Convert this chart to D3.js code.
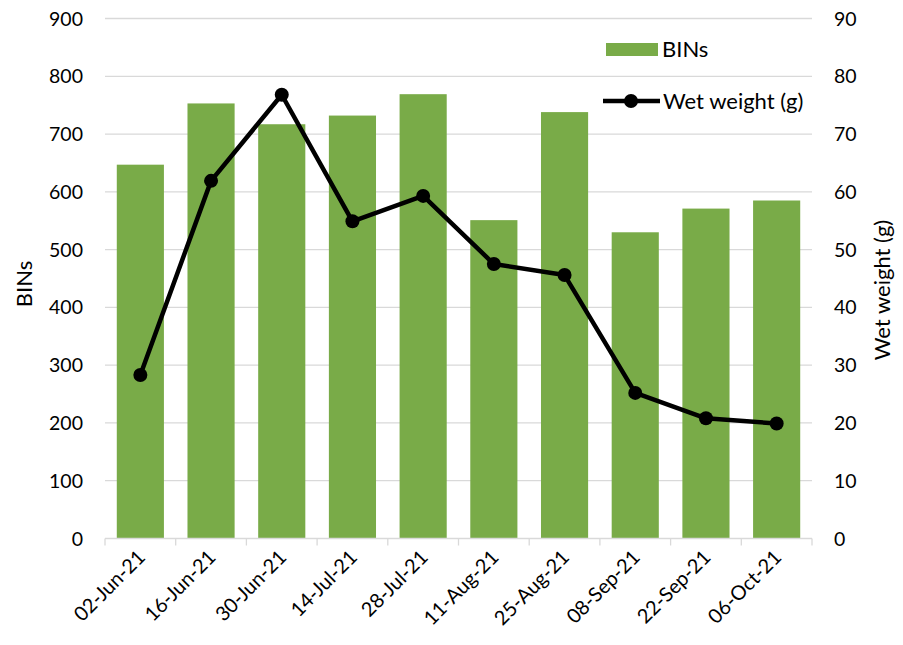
<!DOCTYPE html>
<html><head><meta charset="utf-8">
<script src="https://cdn.jsdelivr.net/npm/d3@7"></script>
<style>body{margin:0;background:#fff}svg{font-family:Lato,"Open Sans",sans-serif}</style>
</head><body><svg id="c" width="903" height="645"></svg>
<script>
const categories = ["02-Jun-21","16-Jun-21","30-Jun-21","14-Jul-21","28-Jul-21","11-Aug-21","25-Aug-21","08-Sep-21","22-Sep-21","06-Oct-21"];
const bins = [647, 753, 717, 732, 769, 551, 738, 530, 571, 585];
const wetWeight = [28.3, 61.9, 76.8, 54.9, 59.3, 47.5, 45.6, 25.2, 20.8, 19.9];
const leftTicks = [0,100,200,300,400,500,600,700,800,900];
const rightTicks = [0,10,20,30,40,50,60,70,80,90];

const svg = d3.select("#c");
const L = 105, R = 812, T = 18.5, B = 538.5;
const x = d3.scaleBand().domain(categories).range([L, R]).paddingInner(1/3).paddingOuter(1/6);
const xb = d3.scaleBand().domain(categories).range([L, R]);
const yL = d3.scaleLinear().domain([0, 900]).range([B, T]);
const yR = d3.scaleLinear().domain([0, 90]).range([B, T]);
const green = "#79AB48";

svg.append("g").selectAll("line").data(leftTicks.filter(d => d > 0)).join("line")
  .attr("x1", L).attr("x2", R).attr("y1", d => yL(d)).attr("y2", d => yL(d))
  .attr("stroke", "#D9D9D9").attr("stroke-width", 1.3);

svg.append("g").selectAll("rect").data(bins).join("rect")
  .attr("x", (d, i) => x(categories[i])).attr("width", x.bandwidth())
  .attr("y", d => yL(d)).attr("height", d => B - yL(d)).attr("fill", green);

const xAxis = svg.append("g").attr("transform", `translate(0,${B})`);
xAxis.append("line").attr("x1", L).attr("x2", R).attr("stroke", "#D9D9D9").attr("stroke-width", 1.3);
xAxis.selectAll("line.t").data(categories.concat(["end"])).join("line").attr("class", "t")
  .attr("x1", (d, i) => L + i * xb.bandwidth()).attr("x2", (d, i) => L + i * xb.bandwidth())
  .attr("y1", 0).attr("y2", 7).attr("stroke", "#D9D9D9").attr("stroke-width", 1.3);
xAxis.selectAll("text").data(categories).join("text")
  .attr("transform", d => `translate(${xb(d) + xb.bandwidth() / 2 + 6},${20}) rotate(-45)`)
  .attr("text-anchor", "end").attr("font-size", 20).attr("fill", "#000").text(d => d);

svg.append("g").selectAll("text").data(leftTicks).join("text")
  .attr("x", 83).attr("y", d => yL(d) + 7).attr("text-anchor", "end")
  .attr("font-size", 19.5).text(d => d);
svg.append("g").selectAll("text").data(rightTicks).join("text")
  .attr("x", 834).attr("y", d => yR(d) + 7).attr("text-anchor", "start")
  .attr("font-size", 19.5).text(d => d);

svg.append("text").attr("transform", "translate(32,284) rotate(-90)").attr("text-anchor", "middle")
  .attr("font-size", 22).text("BINs");
svg.append("text").attr("transform", "translate(890,290) rotate(-90)").attr("text-anchor", "middle")
  .attr("font-size", 22).text("Wet weight (g)");

const cx = (d, i) => xb(categories[i]) + xb.bandwidth() / 2;
const line = d3.line().x(cx).y(d => yR(d));
svg.append("path").datum(wetWeight).attr("d", line).attr("fill", "none")
  .attr("stroke", "#000").attr("stroke-width", 4.5).attr("stroke-linejoin", "round");
svg.append("g").selectAll("circle").data(wetWeight).join("circle")
  .attr("cx", cx).attr("cy", d => yR(d)).attr("r", 7).attr("fill", "#000");

const lg = svg.append("g");
lg.append("rect").attr("x", 606).attr("y", 43).attr("width", 52).attr("height", 13).attr("fill", green);
lg.append("text").attr("x", 662).attr("y", 57).attr("font-size", 22).text("BINs");
lg.append("line").attr("x1", 603).attr("x2", 660).attr("y1", 101).attr("y2", 101)
  .attr("stroke", "#000").attr("stroke-width", 4.5);
lg.append("circle").attr("cx", 631).attr("cy", 101).attr("r", 7).attr("fill", "#000");
lg.append("text").attr("x", 663).attr("y", 109).attr("font-size", 22).text("Wet weight (g)");
</script></body></html>
